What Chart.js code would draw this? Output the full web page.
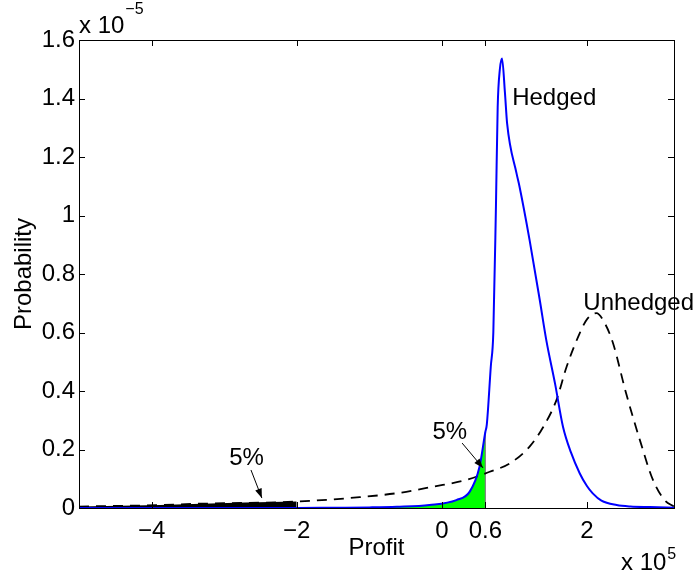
<!DOCTYPE html>
<html>
<head>
<meta charset="utf-8">
<script src="https://cdn.jsdelivr.net/npm/chart.js@4.4.0/dist/chart.umd.min.js"></script>
<style>
  html, body { margin: 0; padding: 0; background: #fff; }
  #wrap { width: 694px; height: 572px; }
</style>
</head>
<body>
<div id="wrap"><canvas id="myChart"></canvas></div>
<script>
// profit in units of 1e5, probability in units of 1e-5
var hedgedProfit = [-5, -3, -2, -1.5, -1, -0.62, -0.17, 0.2, 0.385, 0.52, 0.6, 0.62, 0.675, 0.71, 0.746, 0.77, 0.8, 0.83, 0.87, 0.9, 1.03, 1.07, 1.21, 1.35, 1.44, 1.56, 1.67, 1.78, 1.9, 2.0, 2.08, 2.2, 2.41, 2.6, 2.87, 3.2];
var hedgedProb = [0, 0, 0, 0.001, 0.002, 0.004, 0.01, 0.027, 0.056, 0.141, 0.26, 0.285, 0.483, 0.6, 1.03, 1.37, 1.5, 1.537, 1.42, 1.315, 1.144, 1.1, 0.916, 0.711, 0.574, 0.426, 0.278, 0.19, 0.119, 0.075, 0.05, 0.025, 0.01, 0.005, 0.003, 0.001];
var unhedgedProfit = [-5, -3.88, -3.43, -2, -1.13, -0.58, -0.12, 0.34, 0.66, 0.94, 1.21, 1.4, 1.58, 1.72, 1.9, 2.0, 2.13, 2.25, 2.36, 2.54, 2.73, 2.91, 3.07, 3.2];
var unhedgedProb = [0.005, 0.01, 0.014, 0.022, 0.037, 0.052, 0.073, 0.096, 0.124, 0.153, 0.21, 0.278, 0.369, 0.483, 0.597, 0.645, 0.666, 0.63, 0.563, 0.392, 0.232, 0.096, 0.027, 0.005];

var xTicks = [-4, -2, 0, 0.6, 2];
var yTicks = [0, 0.2, 0.4, 0.6, 0.8, 1, 1.2, 1.4, 1.6];

// 5% tail cut-offs
var cutUnhedged = -2;
var cutHedged = 0.6;

// text labels and arrows, in data coordinates
var notes = [
  { text: 'Hedged', x: 0.97, y: 1.40, align: 'left' },
  { text: 'Unhedged', x: 1.95, y: 0.70, align: 'left' },
  { text: '5%', x: -2.69, y: 0.17, align: 'center' },
  { text: '5%', x: 0.11, y: 0.26, align: 'center' }
];
var arrows = [
  { from: [-2.63, 0.13], to: [-2.48, 0.034] },
  { from: [0.28, 0.222], to: [0.568, 0.137] }
];

function pts(xs, ys, hi) {
  var out = [];
  for (var i = 0; i < xs.length; i++) {
    if (hi === undefined || xs[i] <= hi) out.push({ x: xs[i], y: ys[i] });
  }
  return out;
}

function fmt(v) {
  var s = String(Math.round(v * 10) / 10);
  return v < 0 ? '\u2212' + s.slice(1) : s;
}

var FONT = "'Liberation Sans', Arial, sans-serif";
Chart.defaults.font.family = FONT;
Chart.defaults.font.size = 24;
Chart.defaults.color = '#000';

var extras = {
  id: 'extras',
  afterDraw: function (chart) {
    var ctx = chart.ctx, a = chart.chartArea;
    var xs = chart.scales.x, ys = chart.scales.y;
    ctx.save();
    ctx.strokeStyle = '#000';
    ctx.lineWidth = 1;
    ctx.strokeRect(a.left + 0.5, a.top + 0.5, a.right - a.left, a.bottom - a.top);

    // inward tick marks on all four sides
    ctx.beginPath();
    xTicks.forEach(function (v) {
      var px = Math.round(xs.getPixelForValue(v)) + 0.5;
      ctx.moveTo(px, a.bottom); ctx.lineTo(px, a.bottom - 6);
      ctx.moveTo(px, a.top); ctx.lineTo(px, a.top + 6);
    });
    yTicks.forEach(function (v) {
      var py = Math.round(ys.getPixelForValue(v)) + 0.5;
      ctx.moveTo(a.left, py); ctx.lineTo(a.left + 6, py);
      ctx.moveTo(a.right, py); ctx.lineTo(a.right - 6, py);
    });
    ctx.stroke();

    // exponent labels
    ctx.fillStyle = '#000';
    ctx.textAlign = 'left';
    ctx.textBaseline = 'alphabetic';
    ctx.font = '24px ' + FONT;
    var w = ctx.measureText('x 10').width;
    ctx.fillText('x 10', a.left, 33);
    ctx.fillText('x 10', a.right - 53, 570);
    ctx.font = '16px ' + FONT;
    ctx.fillText('\u22125', a.left + w + 1, 14);
    ctx.fillText('5', a.right - 53 + w + 1, 559);

    // annotations
    ctx.font = '24px ' + FONT;
    ctx.textBaseline = 'middle';
    notes.forEach(function (n) {
      ctx.textAlign = n.align;
      ctx.fillText(n.text, xs.getPixelForValue(n.x), ys.getPixelForValue(n.y));
    });
    arrows.forEach(function (ar) {
      var x0 = xs.getPixelForValue(ar.from[0]), y0 = ys.getPixelForValue(ar.from[1]);
      var x1 = xs.getPixelForValue(ar.to[0]), y1 = ys.getPixelForValue(ar.to[1]);
      var ang = Math.atan2(y1 - y0, x1 - x0);
      ctx.beginPath();
      ctx.moveTo(x0, y0); ctx.lineTo(x1, y1);
      ctx.stroke();
      ctx.beginPath();
      ctx.moveTo(x1, y1);
      ctx.lineTo(x1 - 10 * Math.cos(ang - 0.35), y1 - 10 * Math.sin(ang - 0.35));
      ctx.lineTo(x1 - 10 * Math.cos(ang + 0.35), y1 - 10 * Math.sin(ang + 0.35));
      ctx.closePath();
      ctx.fill();
    });
    ctx.restore();
  }
};

var ctx = document.getElementById('myChart').getContext('2d');
var chart = new Chart(ctx, {
  type: 'line',
  data: {
    datasets: [{
      label: 'Hedged',
      data: pts(hedgedProfit, hedgedProb),
      borderColor: '#0000ff',
      borderWidth: 2,
      fill: false,
      cubicInterpolationMode: 'monotone',
      order: 1
    }, {
      label: 'Unhedged',
      data: pts(unhedgedProfit, unhedgedProb),
      borderColor: '#000',
      borderWidth: 1.8,
      borderDash: [10, 7],
      fill: false,
      cubicInterpolationMode: 'monotone',
      order: 2
    }, {
      label: 'cut',
      data: [{ x: cutHedged, y: 0 }, { x: cutHedged, y: hedgedProb[hedgedProfit.indexOf(cutHedged)] }],
      borderColor: '#808080',
      borderWidth: 1.2,
      fill: false,
      order: 3
    }, {
      label: 'hedged tail',
      data: pts(hedgedProfit, hedgedProb, cutHedged),
      borderWidth: 0,
      backgroundColor: '#00ff00',
      fill: 'origin',
      cubicInterpolationMode: 'monotone',
      order: 4
    }, {
      label: 'unhedged tail',
      data: pts(unhedgedProfit, unhedgedProb, cutUnhedged),
      borderWidth: 0,
      backgroundColor: '#000',
      fill: 'origin',
      cubicInterpolationMode: 'monotone',
      order: 5
    }]
  },
  options: {
    responsive: true,
    maintainAspectRatio: false,
    animation: false,
    layout: { padding: { left: 0, right: 20, top: 40, bottom: 0 } },
    elements: { point: { radius: 0 } },
    plugins: { legend: { display: false }, tooltip: { enabled: false } },
    scales: {
      x: {
        type: 'linear',
        min: -5,
        max: 3.2,
        afterBuildTicks: function (s) { s.ticks = xTicks.map(function (v) { return { value: v }; }); },
        afterFit: function (s) { s.height = 64; },
        ticks: { padding: 9, maxRotation: 0, autoSkip: false, callback: fmt },
        grid: { display: false, drawTicks: false },
        border: { display: false },
        title: { display: true, text: 'Profit', padding: { top: 0, bottom: 9 } }
      },
      y: {
        type: 'linear',
        min: 0,
        max: 1.6,
        afterBuildTicks: function (s) { s.ticks = yTicks.map(function (v) { return { value: v }; }); },
        afterFit: function (s) { s.width = 79; },
        ticks: { padding: 4, callback: fmt },
        grid: { display: false, drawTicks: false },
        border: { display: false },
        title: { display: true, text: 'Probability', padding: { top: 10, bottom: 0 } }
      }
    }
  },
  plugins: [extras]
});
</script>
</body>
</html>
